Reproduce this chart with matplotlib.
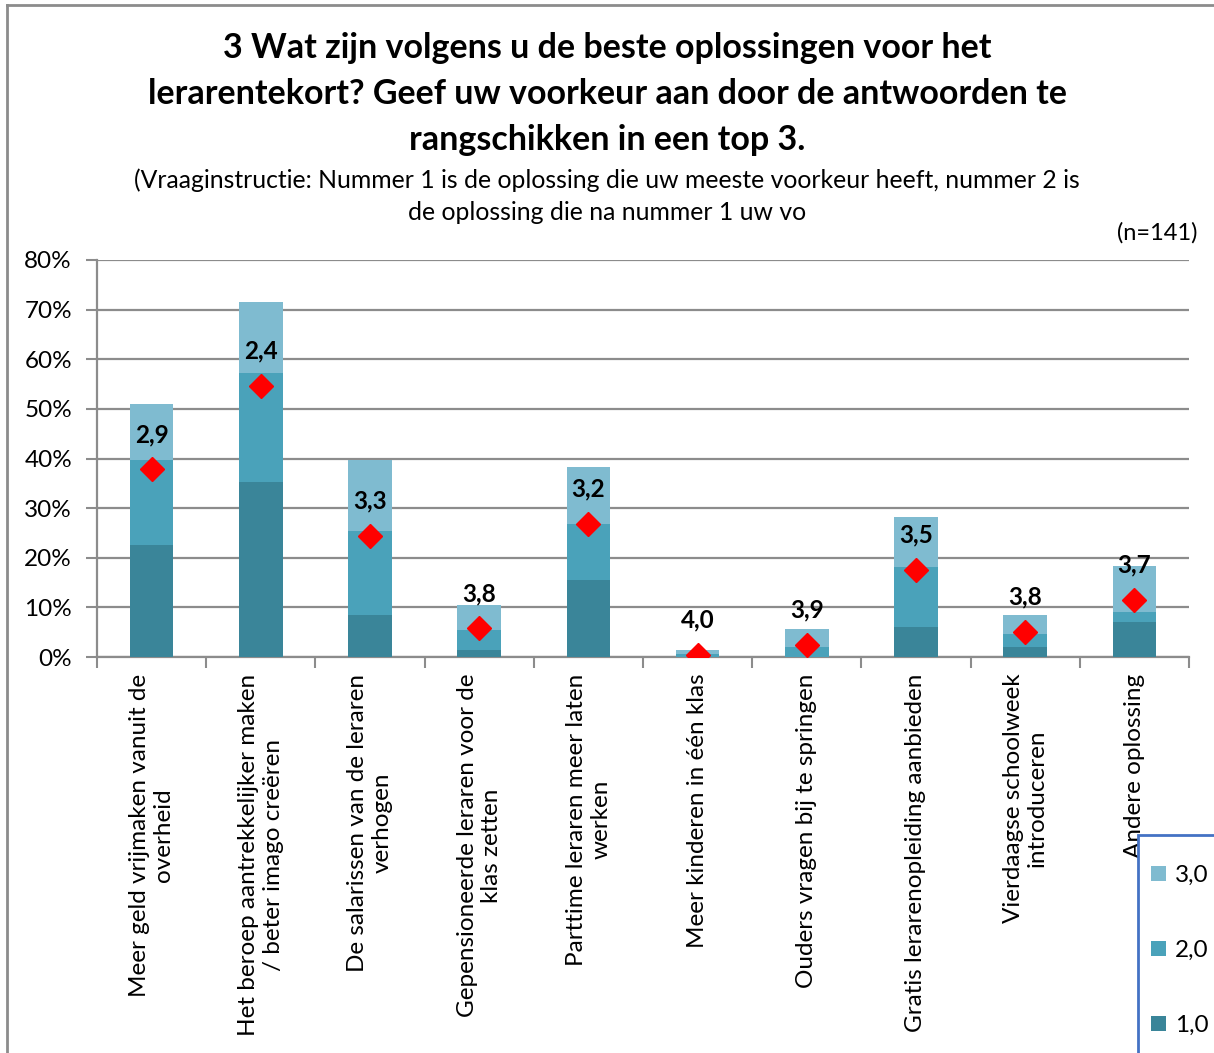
import matplotlib
matplotlib.use("Agg")
import matplotlib.pyplot as plt
import numpy as np
from matplotlib.lines import Line2D
from matplotlib.patches import Rectangle

categories = [
    "Meer geld vrijmaken vanuit de\noverheid",
    "Het beroep aantrekkelijker maken\n/ beter imago creëren",
    "De salarissen van de leraren\nverhogen",
    "Gepensioneerde leraren voor de\nklas zetten",
    "Parttime leraren meer laten\nwerken",
    "Meer kinderen in één klas",
    "Ouders vragen bij te springen",
    "Gratis lerarenopleiding aanbieden",
    "Vierdaagse schoolweek\nintroduceren",
    "Andere oplossing",
]
rank1 = [22.5, 35.2, 8.4, 1.4, 15.6, 0.0, 0.0, 6.1, 2.0, 7.0]
rank2 = [17.2, 22.0, 17.0, 4.1, 11.3, 0.7, 2.1, 12.1, 2.7, 2.1]
rank3 = [11.3, 14.3, 14.2, 5.0, 11.3, 0.7, 3.5, 10.0, 3.7, 9.3]
diamond = [37.8, 54.7, 24.4, 5.8, 26.9, 0.5, 2.5, 17.6, 5.1, 11.5]
mean_labels = ["2,9", "2,4", "3,3", "3,8", "3,2", "4,0", "3,9", "3,5", "3,8", "3,7"]
series_names = ["1,0", "2,0", "3,0"]
yticks = [0, 10, 20, 30, 40, 50, 60, 70, 80]

c1, c2, c3 = "#3A8599", "#4AA2BA", "#7FBBD0"
FONT = "Lato"
plt.rcParams["font.family"] = [FONT, "DejaVu Sans"]

fig = plt.figure(figsize=(12.14, 10.53), dpi=100)
ax = fig.add_axes([97 / 1214, 1 - 657 / 1053, (1189 - 97) / 1214, (657 - 260) / 1053])

x = np.arange(len(categories))
w = 0.40
b1 = ax.bar(x, rank1, w, color=c1, label=series_names[0], zorder=3)
b2 = ax.bar(x, rank2, w, bottom=rank1, color=c2, label=series_names[1], zorder=3)
bot3 = np.array(rank1) + np.array(rank2)
b3 = ax.bar(x, rank3, w, bottom=bot3, color=c3, label=series_names[2], zorder=3)
ax.plot(x, diamond, linestyle="none", marker="D", color="#FF0000", markersize=12.5, zorder=5)
for xi, yi, lab in zip(x, diamond, mean_labels):
    ax.annotate(lab, (xi, yi), xytext=(0, 25), textcoords="offset points",
                ha="center", va="center", fontsize=17.5, fontweight="bold", zorder=6)

ax.set_xlim(-0.5, len(categories) - 0.5)
ax.set_ylim(0, 80)
ax.set_yticks(yticks)
ax.set_yticklabels([f"{v}%" for v in yticks], fontsize=17.5)
ax.yaxis.grid(True, color="#8C8C8C", linewidth=1.6, zorder=0)
ax.set_axisbelow(True)
ax.set_xticks(np.arange(len(categories) + 1) - 0.5, minor=False)
ax.set_xticklabels([])
ax.set_xticks(x, minor=True)
ax.set_xticklabels(categories, minor=True, rotation=90, fontsize=17.5, va="top", ha="center")
for lbl in ax.get_xticklabels(minor=True):
    lbl.set_multialignment("center")
ax.tick_params(axis="x", which="minor", length=0, pad=12)
ax.tick_params(axis="x", which="major", length=8, width=1.5, color="#8C8C8C", direction="out")
ax.tick_params(axis="y", length=8, width=1.5, color="#8C8C8C", direction="out", pad=10)
for s in ["top", "right"]:
    ax.spines[s].set_visible(False)
for s in ["left", "bottom"]:
    ax.spines[s].set_color("#8C8C8C")
    ax.spines[s].set_linewidth(1.6)

fig.text(0.5, 1 - 48 / 1053, "3 Wat zijn volgens u de beste oplossingen voor het",
         ha="center", va="center", fontsize=24.5, fontweight="bold")
fig.text(0.5, 1 - 94 / 1053, "lerarentekort? Geef uw voorkeur aan door de antwoorden te",
         ha="center", va="center", fontsize=24.5, fontweight="bold")
fig.text(0.5, 1 - 140 / 1053, "rangschikken in een top 3.",
         ha="center", va="center", fontsize=24.5, fontweight="bold")
fig.text(0.5, 1 - 180 / 1053,
         "(Vraaginstructie: Nummer 1 is de oplossing die uw meeste voorkeur heeft, nummer 2 is",
         ha="center", va="center", fontsize=17.8)
fig.text(0.5, 1 - 212 / 1053, "de oplossing die na nummer 1 uw vo",
         ha="center", va="center", fontsize=17.8)
fig.text(1198 / 1214, 1 - 233 / 1053, "(n=141)", ha="right", va="center", fontsize=17)

# outer chart frame
fig.add_artist(Line2D([7 / 1214, 1.0], [1 - 5 / 1053, 1 - 5 / 1053], color="#8C8C8C", lw=2,
                      transform=fig.transFigure))
fig.add_artist(Line2D([7 / 1214, 7 / 1214], [0, 1 - 5 / 1053], color="#8C8C8C", lw=2,
                      transform=fig.transFigure))

# legend box frame (extends past the figure edge as in the reference)
fig.add_artist(Rectangle((1138 / 1214, -0.05), 0.2, (1053 - 835) / 1053 + 0.05,
                         transform=fig.transFigure, facecolor="white",
                         edgecolor="#4472C4", linewidth=2, zorder=1))

handles = [b3, b2, b1]
leg = fig.legend(handles, [series_names[2], series_names[1], series_names[0]],
                 loc="upper left", bbox_to_anchor=(1151 / 1214, 1 - 865 / 1053),
                 fontsize=17.5, frameon=False, labelspacing=2.22,
                 handlelength=0.6, handleheight=0.6, handletextpad=0.4,
                 borderpad=0, borderaxespad=0)
leg.set_zorder(2)

fig.savefig("out.png", dpi=100)
